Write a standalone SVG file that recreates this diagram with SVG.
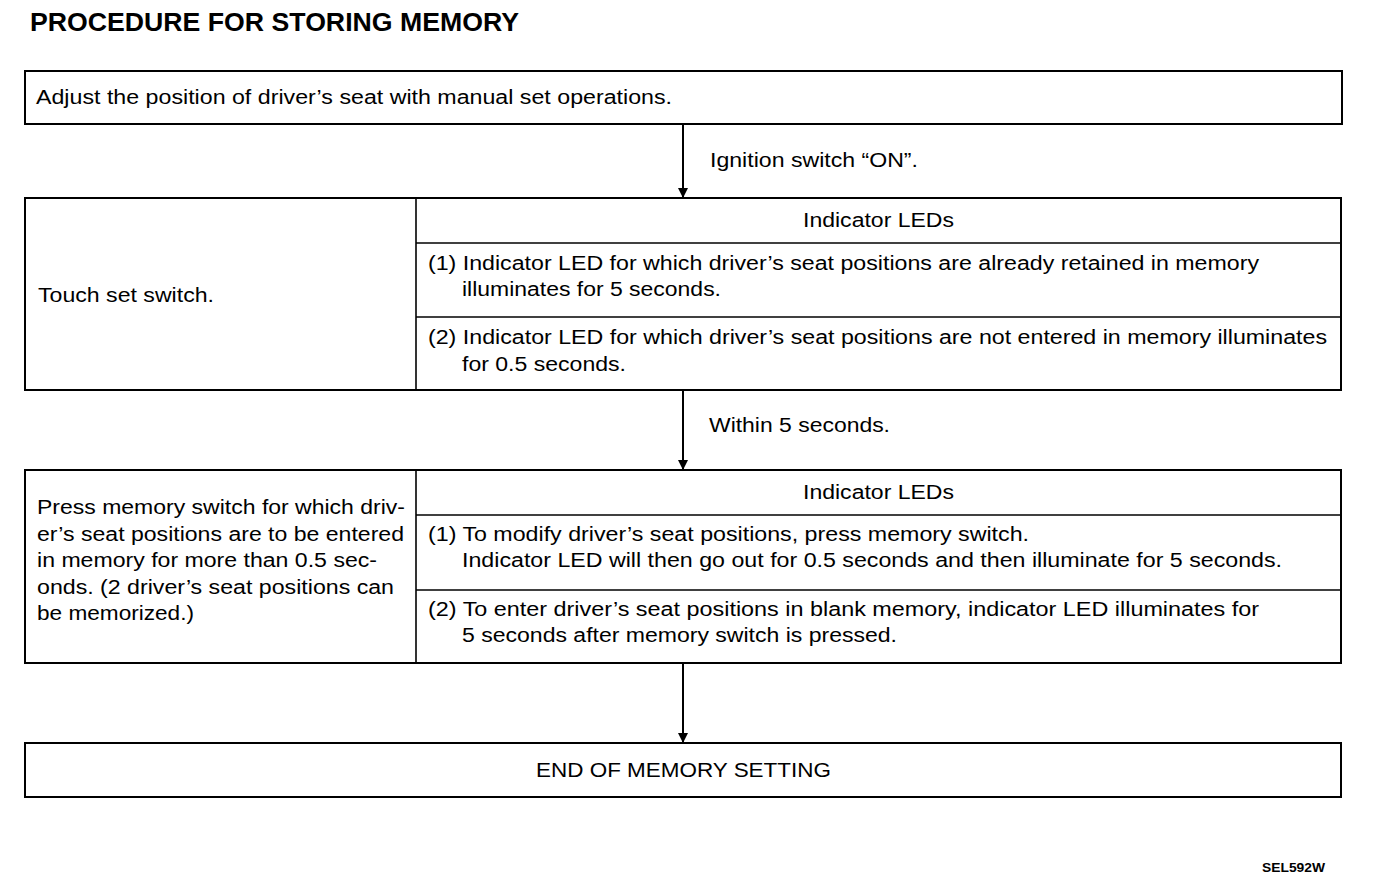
<svg xmlns="http://www.w3.org/2000/svg" width="1392" height="894" viewBox="0 0 1392 894">
<defs>
<style>
.box{fill:#fff;stroke:#000;stroke-width:2}
.div{stroke:#000;stroke-width:1.6;fill:none}
.t{font-family:"Liberation Sans",Arial,sans-serif;font-size:20px;fill:#000}
.c{text-anchor:middle}
.title{font-family:"Liberation Sans",Arial,sans-serif;font-size:25px;font-weight:bold;fill:#000}
.code{font-family:"Liberation Sans",Arial,sans-serif;font-size:13px;font-weight:bold;fill:#000}
.conn{stroke:#000;stroke-width:2;fill:none;marker-end:url(#ah)}
</style>
<marker id="ah" viewBox="0 0 10 10" refX="10" refY="5" markerWidth="10" markerHeight="10" markerUnits="userSpaceOnUse" orient="auto">
<path d="M0,0 L10,5 L0,10 Z" fill="#000"/>
</marker>
</defs>
<rect width="1392" height="894" fill="#fff"/>
<text class="title" x="30" y="31" textLength="489" lengthAdjust="spacingAndGlyphs">PROCEDURE FOR STORING MEMORY</text>

<g id="connectors">
<line class="conn" x1="683" y1="124" x2="683" y2="198"/>
<line class="conn" x1="683" y1="390" x2="683" y2="470"/>
<line class="conn" x1="683" y1="663" x2="683" y2="743"/>
<text class="t" x="710" y="167" textLength="208" lengthAdjust="spacingAndGlyphs">Ignition switch “ON”.</text>
<text class="t" x="709" y="432" textLength="181" lengthAdjust="spacingAndGlyphs">Within 5 seconds.</text>
</g>

<g id="node-adjust">
<rect class="box" x="25" y="71" width="1317" height="53"/>
<text class="t" x="36" y="104" textLength="636" lengthAdjust="spacingAndGlyphs">Adjust the position of driver’s seat with manual set operations.</text>
</g>

<g id="node-touch">
<rect class="box" x="25" y="198" width="1316" height="192"/>
<line class="div" x1="416" y1="198" x2="416" y2="390"/>
<line class="div" x1="416" y1="243" x2="1341" y2="243"/>
<line class="div" x1="416" y1="317" x2="1341" y2="317"/>
<text class="t" x="38" y="302" textLength="176" lengthAdjust="spacingAndGlyphs">Touch set switch.</text>
<text class="t" x="803" y="227" textLength="151" lengthAdjust="spacingAndGlyphs">Indicator LEDs</text>
<text class="t" x="428" y="270" textLength="831" lengthAdjust="spacingAndGlyphs">(1) Indicator LED for which driver’s seat positions are already retained in memory</text>
<text class="t" x="462" y="296" textLength="259" lengthAdjust="spacingAndGlyphs">illuminates for 5 seconds.</text>
<text class="t" x="428" y="344" textLength="899" lengthAdjust="spacingAndGlyphs">(2) Indicator LED for which driver’s seat positions are not entered in memory illuminates</text>
<text class="t" x="462" y="371" textLength="164" lengthAdjust="spacingAndGlyphs">for 0.5 seconds.</text>
</g>

<g id="node-press">
<rect class="box" x="25" y="470" width="1316" height="193"/>
<line class="div" x1="416" y1="470" x2="416" y2="663"/>
<line class="div" x1="416" y1="515" x2="1341" y2="515"/>
<line class="div" x1="416" y1="590" x2="1341" y2="590"/>
<text class="t" x="37" y="514" textLength="368" lengthAdjust="spacingAndGlyphs">Press memory switch for which driv-</text>
<text class="t" x="37" y="541" textLength="367" lengthAdjust="spacingAndGlyphs">er’s seat positions are to be entered</text>
<text class="t" x="37" y="567" textLength="340" lengthAdjust="spacingAndGlyphs">in memory for more than 0.5 sec-</text>
<text class="t" x="37" y="594" textLength="357" lengthAdjust="spacingAndGlyphs">onds. (2 driver’s seat positions can</text>
<text class="t" x="37" y="620" textLength="157" lengthAdjust="spacingAndGlyphs">be memorized.)</text>
<text class="t" x="803" y="499" textLength="151" lengthAdjust="spacingAndGlyphs">Indicator LEDs</text>
<text class="t" x="428" y="541" textLength="601" lengthAdjust="spacingAndGlyphs">(1) To modify driver’s seat positions, press memory switch.</text>
<text class="t" x="462" y="567" textLength="820" lengthAdjust="spacingAndGlyphs">Indicator LED will then go out for 0.5 seconds and then illuminate for 5 seconds.</text>
<text class="t" x="428" y="616" textLength="831" lengthAdjust="spacingAndGlyphs">(2) To enter driver’s seat positions in blank memory, indicator LED illuminates for</text>
<text class="t" x="462" y="642" textLength="435" lengthAdjust="spacingAndGlyphs">5 seconds after memory switch is pressed.</text>
</g>

<g id="node-end">
<rect class="box" x="25" y="743" width="1316" height="54"/>
<text class="t" x="536" y="777" textLength="295" lengthAdjust="spacingAndGlyphs">END OF MEMORY SETTING</text>
</g>

<text class="code" x="1262" y="872" textLength="63" lengthAdjust="spacingAndGlyphs">SEL592W</text>
</svg>
